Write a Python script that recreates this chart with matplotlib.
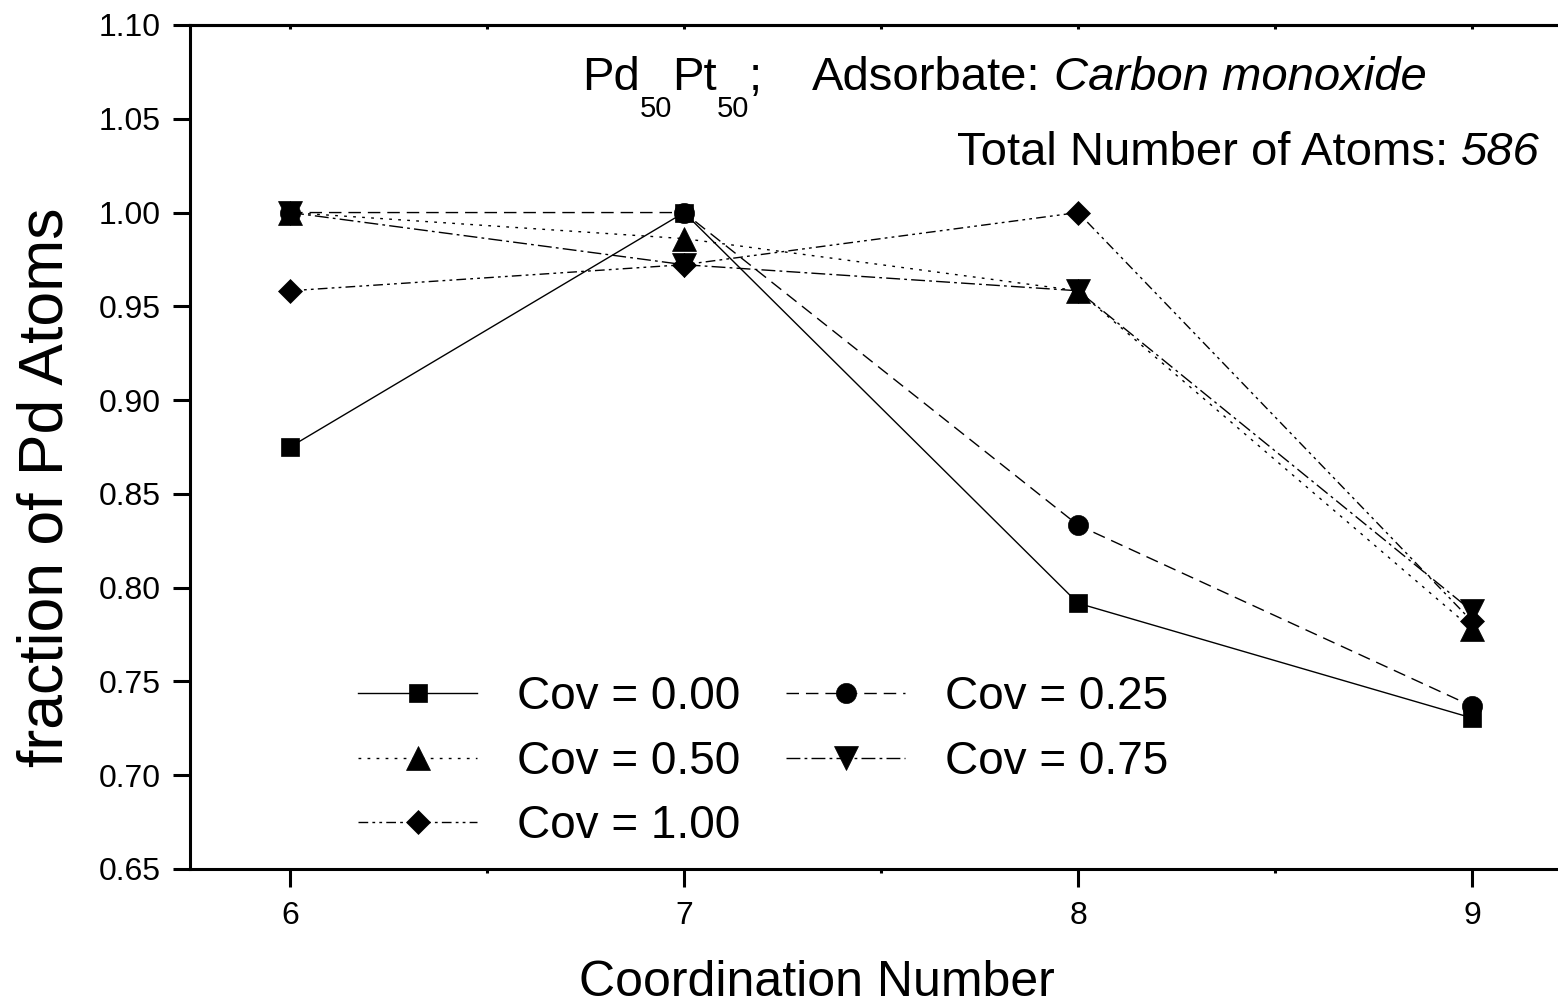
import matplotlib
matplotlib.use("Agg")
import matplotlib.pyplot as plt
from matplotlib.ticker import MultipleLocator, FormatStrFormatter

plt.rcParams['font.family'] = ['Liberation Sans', 'DejaVu Sans']

# Coordination numbers and Pd fraction per CO coverage
coordination = [6, 7, 8, 9]
cov_000 = [0.875, 1.000, 0.7917, 0.7305]
cov_025 = [1.000, 1.000, 0.8333, 0.7368]
cov_050 = [1.000, 0.9861, 0.9583, 0.7780]
cov_075 = [1.000, 0.9722, 0.9583, 0.7875]
cov_100 = [0.9583, 0.9722, 1.000, 0.7820]

labels = ["Cov = 0.00", "Cov = 0.25", "Cov = 0.50", "Cov = 0.75", "Cov = 1.00"]
series = [cov_000, cov_025, cov_050, cov_075, cov_100]
markers = ['s', 'o', '^', 'v', 'D']
msizes = [13, 14.5, 17, 17, 12.7]
styles = ['-', (0, (9, 5)), (0, (2, 4.5)), (0, (10, 3, 2, 3)), (0, (7, 3, 2, 3, 2, 3))]

W, H = 1558, 1008
fig = plt.figure(figsize=(W / 100, H / 100), dpi=100)
ax = fig.add_axes([190 / W, 139 / H, 1368 / W, 844 / H])

handles = []
for vals, lab, mk, ms, ls in zip(series, labels, markers, msizes, styles):
    h, = ax.plot(coordination, vals, color='black', lw=1.0, linestyle=ls,
                 marker=mk, markersize=ms, markerfacecolor='black',
                 markeredgecolor='black', markeredgewidth=0.5, label=lab)
    handles.append(h)

ax.set_xlim(5.746, 9.218)
ax.set_ylim(0.65, 1.10)
ax.xaxis.set_major_locator(MultipleLocator(1))
ax.xaxis.set_minor_locator(MultipleLocator(0.5))
ax.yaxis.set_major_locator(MultipleLocator(0.05))
ax.yaxis.set_major_formatter(FormatStrFormatter('%.2f'))

for side in ['left', 'bottom', 'top']:
    ax.spines[side].set_linewidth(2.2)
ax.spines['right'].set_visible(False)

ax.tick_params(axis='y', which='major', direction='out', length=12, width=2.2,
               pad=9, labelsize=23)
ax.tick_params(axis='x', which='major', direction='out', length=13, width=2.2,
               pad=10, labelsize=23)
ax.tick_params(axis='x', which='minor', direction='out', length=3, width=2.2)

top = ax.secondary_xaxis('top')
top.xaxis.set_major_locator(MultipleLocator(0.5))
top.tick_params(direction='in', length=3, width=2.2, labeltop=False)
top.spines['top'].set_linewidth(2.2)

ax.set_xlabel("Coordination Number", fontsize=36)
ax.xaxis.set_label_coords((817 - 190) / 1368, (869 - 996) / 844)
ax.xaxis.label.set_va('baseline')
ax.set_ylabel("fraction of Pd Atoms", fontsize=45)
ax.yaxis.set_label_coords((46 - 190) / 1368, (869 - 487) / 844)
ax.yaxis.label.set_va('center')

# Annotation lines, laid out piece by piece in pixel coordinates
renderer = fig.canvas.get_renderer()


def put(x, baseline, s, size, ha='left', style='normal'):
    t = fig.text(x / W, (H - baseline) / H, s, fontsize=size, ha=ha,
                 va='baseline', style=style)
    return t.get_window_extent(renderer)


title_size = 34
sub_size = 21
space = 0.278 * title_size * 100 / 72

x = 582
x = put(x, 90, "Pd", title_size).x1
x = put(x, 117, "50", sub_size).x1
x = put(x, 90, "Pt", title_size).x1
x = put(x, 117, "50", sub_size).x1
put(x, 90, ";", title_size)
x = put(812, 90, "Adsorbate:", title_size).x1
put(x + space, 90, "Carbon monoxide", title_size, style='italic')

bb = put(1540, 165, "586", title_size, ha='right', style='italic')
put(bb.x0 - space, 165, "Total Number of Atoms:", title_size, ha='right')

legend_size = 33
order = [0, 2, 4, 1, 3]
ax.legend([handles[i] for i in order], [labels[i] for i in order],
          ncol=2, frameon=False, fontsize=legend_size, numpoints=1,
          handlelength=2.6, handletextpad=0.87, columnspacing=1.0,
          labelspacing=0.45, borderpad=0, borderaxespad=0,
          loc='upper left', bbox_to_anchor=((358 - 190) / 1368, (869 - 675) / 844))

fig.savefig("out.png", dpi=100)
